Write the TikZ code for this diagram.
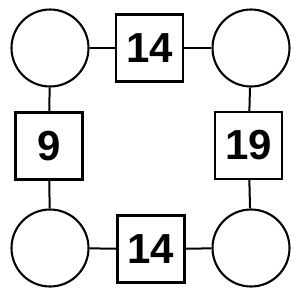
\documentclass[tikz,border=0pt]{standalone}
\usepackage{fontspec}
\setmainfont{Liberation Sans}
\usepackage{tikz}
\usetikzlibrary{positioning}

\begin{document}
\begin{tikzpicture}[x=1pt, y=-1pt,
  spot/.style={circle, draw, line width=2.1pt, minimum size=77pt, inner sep=0pt},
  sumbox/.style={rectangle, draw, line width=2.2pt, minimum size=67pt, inner sep=0pt,
    font=\fontsize{42}{42}\selectfont\bfseries},
  link/.style={line width=2pt}
]
\useasboundingbox (0,0) rectangle (300,300);
% Corners
\node[spot] (tl) at (50,48) {};
\node[spot] (tr) at (251,48) {};
\node[spot] (bl) at (50,248) {};
\node[spot] (br) at (251,248) {};

% Sums
\node[sumbox] (top) at (149.5,48) {14};
\node[sumbox] (left) at (49,146) {9};
\node[sumbox] (right) at (248.5,145.5) {19};
\node[sumbox] (bottom) at (151,249) {14};

% Links
\draw[link] (tl) -- (top);
\draw[link] (top) -- (tr);
\draw[link] (tl) -- (left);
\draw[link] (left) -- (bl);
\draw[link] (tr) -- (right);
\draw[link] (right) -- (br);
\draw[link] (bl) -- (bottom);
\draw[link] (bottom) -- (br);
\end{tikzpicture}
\end{document}
